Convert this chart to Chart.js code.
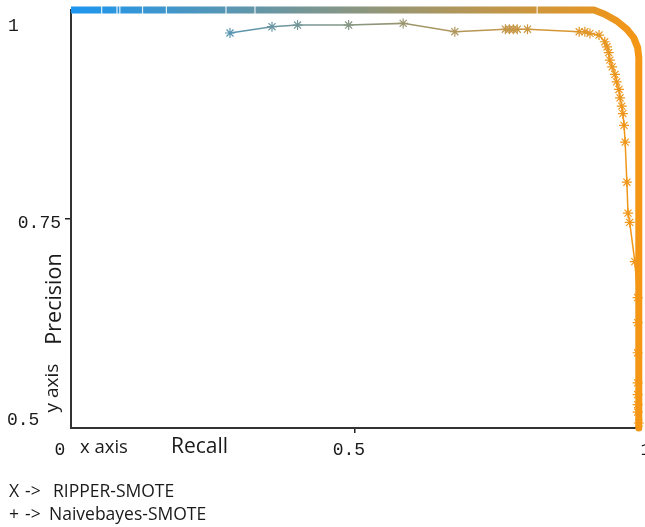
<!DOCTYPE html>
<html><head><meta charset="utf-8">
<script src="https://cdn.jsdelivr.net/npm/chart.js@4"></script>
<style>html,body{margin:0;padding:0;background:#fff;overflow:hidden}#wrap{width:645px;height:527px;position:relative}</style>
</head><body><div id="wrap"><canvas id="c" width="645" height="527"></canvas></div>
<script>
// ---- data ----
const seriesNames = ['RIPPER-SMOTE', 'Naivebayes-SMOTE'];
const seriesSymbols = ['X', '+'];
const ripperRecall = [0.280,0.354,0.399,0.489,0.585,0.676,0.765,0.772,0.779,0.786,0.804,0.895,0.905,0.914,0.930,0.940,0.944,0.947,0.949,0.953,0.958,0.961,0.965,0.967,0.970,0.972,0.974,0.976,0.979,0.981,0.984,0.993,0.998,0.998,0.998,0.998,0.998,0.998,0.998,1.000];
const ripperPrecision = [0.9725,0.980,0.982,0.982,0.984,0.974,0.977,0.977,0.977,0.977,0.977,0.974,0.974,0.972,0.970,0.962,0.956,0.949,0.940,0.932,0.923,0.914,0.905,0.895,0.885,0.876,0.862,0.842,0.794,0.757,0.746,0.699,0.656,0.626,0.590,0.554,0.540,0.528,0.519,0.506];
const nbRecall = [0.000,0.054,0.081,0.086,0.126,0.168,0.273,0.324,0.821,0.921,0.940,0.961,0.979,0.991,0.998,1.000,1.000];
const nbPrecision = [1.000,1.000,1.000,1.000,1.000,1.000,1.000,1.000,1.000,1.000,0.995,0.987,0.977,0.967,0.955,0.943,0.500];
const xTicks = [0, 0.5, 1];
const xTickLabels = ['0', '0.5', '1'];
const yTicks = [0.5, 0.75, 1];
const yTickLabels = ['0.5', '0.75', '1'];
const xTitle = 'Recall', xSub = 'x axis';
const yTitle = 'Precision', ySub = 'y axis';

// ---- colours ----
const C0 = [28,150,240], C1 = [245,150,20];
function colorAt(t){ t=Math.max(0,Math.min(1,t)); const c=C0.map((v,i)=>Math.round(v+(C1[i]-v)*t)); return `rgb(${c[0]},${c[1]},${c[2]})`; }
function grad(ctx){ const ch=ctx.chart, a=ch.chartArea; if(!a) return colorAt(0.5);
  const g=ch.ctx.createLinearGradient(a.left,0,a.right,0); g.addColorStop(0,colorAt(0)); g.addColorStop(1,colorAt(1)); return g; }

const textPlugin = {
  id:'texts',
  afterDraw(chart){
    const c=chart.ctx, xs=chart.scales.x, ys=chart.scales.y;
    c.save();
    c.fillStyle='#1a1a1a';
    c.font='18px "Liberation Mono"';
    c.textBaseline='middle';
    // x tick labels
    const xNudge=[-11,-6,7];
    xTicks.forEach((v,i)=>{ c.textAlign='center'; c.fillText(xTickLabels[i], xs.getPixelForValue(v)+xNudge[i], 450); });
    // y tick labels
    yTicks.forEach((v,i)=>{ const py=ys.getPixelForValue(v);
      if(v===0.75){ c.textAlign='right'; c.fillText(yTickLabels[i], 61, py+4); }
      else if(v===1){ c.textAlign='left'; c.fillText(yTickLabels[i], 8, py+16); }
      else { c.textAlign='left'; c.fillText(yTickLabels[i], 7, py-8); }
    });
    c.textBaseline='alphabetic';
    c.textAlign='left';
    c.font='21px "Open Sans"';
    c.fillText(xTitle, 171, 453);
    c.font='18.5px "Open Sans"';
    c.fillText(xSub, 80, 453);
    // rotated y titles
    c.save(); c.translate(61, 299); c.rotate(-Math.PI/2); c.textAlign='center';
    c.font='21.5px "Open Sans"'; c.fillText(yTitle, 0, 0); c.restore();
    c.save(); c.translate(58, 388); c.rotate(-Math.PI/2); c.textAlign='center';
    c.font='19px "Open Sans"'; c.fillText(ySub, 0, 0); c.restore();
    // legend text
    c.font='17.5px "Open Sans"'; c.textAlign='left';
    const starts=[53,49];
    seriesNames.forEach((n,i)=>{ const by=497+i*23;
      c.fillText(seriesSymbols[i], 9, by); c.fillText('->', 25, by); c.fillText(n, starts[i], by); });
    c.restore();
  }
};

new Chart(document.getElementById('c'), {
  type:'scatter',
  data:{ datasets:[
    { label: seriesNames[1], data: nbRecall.map((x,i)=>({x, y:nbPrecision[i]})), showLine:true, clip:false,
      borderColor: grad, borderWidth:7, borderJoinStyle:'round', borderCapStyle:'butt', tension:0,
      pointStyle:'line', rotation:90,
      pointRadius: ctx => (ctx.raw && ctx.raw.y===1 && ctx.raw.x>0 && ctx.raw.x<0.9) ? 4 : 0,
      pointBorderColor:'rgba(255,255,255,0.85)', pointBorderWidth:1.2, pointHoverRadius:0 },
    { label: seriesNames[0], data: ripperRecall.map((x,i)=>({x, y:ripperPrecision[i]})), showLine:true, clip:false,
      borderColor: grad, borderWidth:1.5, tension:0,
      pointStyle:'star', pointRadius:5,
      pointBorderColor: ctx => ctx.raw ? colorAt(ctx.raw.x) : '#888',
      pointBackgroundColor:'rgba(0,0,0,0)', pointBorderWidth:1.2, pointHoverRadius:0 }
  ]},
  options:{
    responsive:false, animation:false, devicePixelRatio:1,
    layout:{ padding:{ left:66, right:3, top:10, bottom:94 } },
    plugins:{ legend:{display:false}, tooltip:{enabled:false} },
    scales:{
      x:{ type:'linear', min:0, max:1,
        afterBuildTicks: s=>{ s.ticks = xTicks.map(v=>({value:v})); },
        ticks:{ display:false },
        grid:{ drawOnChartArea:false, drawTicks:true, tickLength:5, lineWidth:1.5,
          color: ctx => (ctx.tick && ctx.tick.value===0.5) ? '#222' : 'rgba(0,0,0,0)' },
        border:{ display:true, color:'#333', width:2 },
        afterFit: s=>{ s.height=5; } },
      y:{ type:'linear', min:0.5, max:1,
        afterBuildTicks: s=>{ s.ticks = yTicks.map(v=>({value:v})); },
        ticks:{ display:false },
        grid:{ drawOnChartArea:false, drawTicks:true, tickLength:6, lineWidth:1.5,
          color: ctx => (ctx.tick && ctx.tick.value===0.75) ? '#222' : 'rgba(0,0,0,0)' },
        border:{ display:true, color:'#333', width:2 },
        afterFit: s=>{ s.width=5; } }
    }
  },
  plugins:[textPlugin]
});
</script></body></html>
